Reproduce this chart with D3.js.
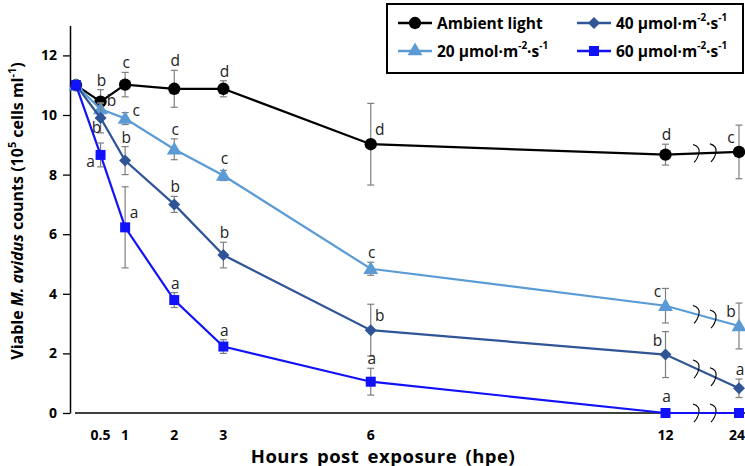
<!DOCTYPE html>
<html><head><meta charset="utf-8">
<script src="https://cdn.jsdelivr.net/npm/d3@7"></script>
<style>
body{margin:0;background:#fff;}
svg text{font-family:"Open Sans","Noto Sans",sans-serif;}
</style></head>
<body><svg id="chart" width="745" height="466"></svg>
<script>
const hours = [0, 0.5, 1, 2, 3, 6, 12, 24];
const xTickValues = [0.5, 1, 2, 3, 6, 12, 24];
const yTickValues = [0, 2, 4, 6, 8, 10, 12];

const ambientVals = [11.0, 10.45, 11.02, 10.88, 10.88, 9.02, 8.67, 8.76];
const ambientErr  = [0, 0.40, 0.41, 0.62, 0.27, 1.37, 0.35, 0.90];
const ambientLet  = ["", "b", "c", "d", "d", "d", "d", "c"];

const p20Vals = [11.0, 10.20, 9.88, 8.85, 7.97, 4.84, 3.60, 2.92];
const p20Err  = [0, 0.20, 0.20, 0.35, 0.17, 0.22, 0.58, 0.77];
const p20Let  = ["", "b", "c", "c", "c", "c", "c", "b"];

const p40Vals = [11.0, 9.90, 8.47, 7.00, 5.30, 2.78, 1.96, 0.83];
const p40Err  = [0, 0.50, 0.47, 0.27, 0.43, 0.87, 0.77, 0.31];
const p40Let  = ["", "b", "b", "b", "b", "b", "b", "a"];

const p60Vals = [11.0, 8.66, 6.23, 3.79, 2.23, 1.05, 0.0, 0.0];
const p60Err  = [0, 0.40, 1.36, 0.25, 0.23, 0.45, 0, 0];
const p60Let  = ["", "a", "a", "a", "a", "a", "a", ""];

const seriesNames = ["Ambient light", "20", "40", "60"];

// label placement codes (layout only)
const place = {
  amb: ["", "t", "t", "t", "t", "r", "t", "l"],
  p20: ["", "ur", "ur", "t", "t", "t", "l", "l"],
  p40: ["", "bl", "t", "t", "t", "r", "l", "t"],
  p60: ["", "ml", "r", "t", "t", "t", "t", ""]
};

const series = [
  {name: seriesNames[0], vals: ambientVals, err: ambientErr, let: ambientLet, pl: place.amb, color: "#000000", sym: "circle"},
  {name: seriesNames[1], vals: p20Vals, err: p20Err, let: p20Let, pl: place.p20, color: "#5B9BD5", sym: "triangle"},
  {name: seriesNames[2], vals: p40Vals, err: p40Err, let: p40Let, pl: place.p40, color: "#2F5597", sym: "diamond"},
  {name: seriesNames[3], vals: p60Vals, err: p60Err, let: p60Let, pl: place.p60, color: "#1212FA", sym: "square"}
];

const svg = d3.select("#chart");
const x = d3.scaleLinear().domain([0, 12, 24]).range([76, 665.5, 739]);
const y = d3.scaleLinear().domain([0, 13]).range([413, 25.6]);

// axes
const yAxis = d3.axisLeft(y).tickValues(yTickValues).tickSize(7).tickSizeOuter(0).tickPadding(6);
const gy = svg.append("g").attr("transform", "translate(70,0)").call(yAxis);
gy.select(".domain").attr("stroke", "#000").attr("stroke-width", 1.5);
gy.selectAll(".tick line").attr("stroke", "#000").attr("stroke-width", 1.3);
gy.selectAll(".tick text").attr("font-size", 14).attr("font-weight", "bold").attr("fill", "#000")
  .style("font-family", '"Open Sans", sans-serif');

// x axis line (starts after small gap)
svg.append("line").attr("x1", 75).attr("x2", 745).attr("y1", y(0)).attr("y2", y(0))
  .attr("stroke", "#000").attr("stroke-width", 1.5);
svg.append("g").selectAll("text").data(xTickValues).join("text")
  .attr("x", d => d === 24 ? x(d) - 2 : x(d)).attr("y", 434).attr("text-anchor", "middle").attr("dominant-baseline", "central")
  .attr("font-size", 14).attr("font-weight", "bold").text(d => d);

// axis titles
svg.append("text").attr("x", 383).attr("y", 455).attr("text-anchor", "middle").attr("dominant-baseline", "central")
  .attr("font-size", 18.5).attr("font-weight", "bold").attr("letter-spacing", 0.5).attr("word-spacing", 3)
  .text("Hours post exposure (hpe)");

const yt = svg.append("text").attr("transform", "translate(17,211) rotate(-90)")
  .attr("text-anchor", "middle").attr("dominant-baseline", "central")
  .attr("font-size", 16).attr("font-weight", "bold");
yt.append("tspan").text("Viable ");
yt.append("tspan").attr("font-style", "italic").text("M. avidus");
yt.append("tspan").text(" counts (10");
yt.append("tspan").attr("font-size", 11).attr("dy", -6).text("5");
yt.append("tspan").attr("dy", 6).text(" cells ml");
yt.append("tspan").attr("font-size", 11).attr("dy", -6).text("-1");
yt.append("tspan").attr("dy", 6).text(")");

function symPath(sym) {
  if (sym === "circle") return d3.symbol(d3.symbolCircle, 120)();
  if (sym === "triangle") return d3.symbol(d3.symbolTriangle, 95)();
  if (sym === "diamond") return "M0,-6L6,0L0,6L-6,0Z";
  return d3.symbol(d3.symbolSquare, 100)();
}

const line = d3.line().x(d => x(d.h)).y(d => y(d.v));

series.forEach(s => {
  const pts = hours.map((h, i) => ({h, v: s.vals[i], e: s.err[i], l: s.let[i], p: s.pl[i]}));
  const g = svg.append("g");
  g.append("path").datum(pts).attr("d", line).attr("fill", "none")
    .attr("stroke", s.color).attr("stroke-width", 2.2);
  const eb = g.selectAll(".eb").data(pts.filter(d => d.e > 0)).join("g");
  eb.append("line").attr("x1", d => x(d.h)).attr("x2", d => x(d.h))
    .attr("y1", d => y(d.v + d.e)).attr("y2", d => y(d.v - d.e)).attr("stroke", "#7f7f7f").attr("stroke-width", 1.2);
  eb.append("line").attr("x1", d => x(d.h) - 3.5).attr("x2", d => x(d.h) + 3.5)
    .attr("y1", d => y(d.v + d.e)).attr("y2", d => y(d.v + d.e)).attr("stroke", "#7f7f7f").attr("stroke-width", 1.2);
  eb.append("line").attr("x1", d => x(d.h) - 3.5).attr("x2", d => x(d.h) + 3.5)
    .attr("y1", d => y(d.v - d.e)).attr("y2", d => y(d.v - d.e)).attr("stroke", "#7f7f7f").attr("stroke-width", 1.2);
  g.selectAll(".mk").data(pts).join("path")
    .attr("d", symPath(s.sym))
    .attr("transform", d => `translate(${x(d.h)},${y(d.v) + (s.sym === "triangle" ? 1 : 0)})`)
    .attr("fill", s.color);
  g.selectAll(".lt").data(pts.filter(d => d.l)).join("text")
    .attr("x", d => {
      const px = x(d.h);
      if (d.p === "r") return px + 9;
      if (d.p === "l") return px - 8;
      if (d.p === "ur") return px + 11;
      if (d.p === "bl") return px - 4;
      if (d.p === "ml") return px - 10;
      return px + 1;
    })
    .attr("y", d => {
      const py = y(d.v);
      if (d.p === "r" || d.p === "l") return py - 15;
      if (d.p === "ur") return py - 9;
      if (d.p === "bl") return py + 9;
      if (d.p === "ml") return py + 6;
      return Math.min(y(d.v + d.e) - 10, py - 17);
    })
    .attr("text-anchor", "middle").attr("dominant-baseline", "central")
    .attr("font-size", 15.5).attr("fill", "#222").text(d => d.l);
  [697, 714].forEach(bx => {
    const t = (x.invert(bx) - 12) / 12;
    const by = y(s.vals[6] + (s.vals[7] - s.vals[6]) * t);
    g.append("path").attr("d", `M${bx - 4},${by - 9} Q${bx + 3},${by - 7} ${bx + 2},${by - 1} Q${bx + 1},${by + 5} ${bx - 3},${by + 9}`)
      .attr("fill", "none").attr("stroke", "#000").attr("stroke-width", 1.1);
  });
});

// legend
const lg = svg.append("g");
lg.append("rect").attr("x", 387).attr("y", 4).attr("width", 356).attr("height", 69)
  .attr("fill", "#fff").attr("stroke", "#000").attr("stroke-width", 2);
const legendItems = [
  {s: series[0], x: 398, y: 23},
  {s: series[2], x: 577, y: 23},
  {s: series[1], x: 398, y: 51},
  {s: series[3], x: 577, y: 51}
];
legendItems.forEach(it => {
  const g = lg.append("g");
  g.append("line").attr("x1", it.x).attr("x2", it.x + 34).attr("y1", it.y).attr("y2", it.y)
    .attr("stroke", it.s.color).attr("stroke-width", 2.5);
  g.append("path").attr("d", symPath(it.s.sym)).attr("transform", `translate(${it.x + 17},${it.y})`).attr("fill", it.s.color);
  const t = g.append("text").attr("x", it.x + 39).attr("y", it.y).attr("dominant-baseline", "central")
    .attr("font-size", 15.5).attr("font-weight", "bold");
  if (it.s.name === "Ambient light") { t.text("Ambient light"); }
  else {
    t.append("tspan").text(it.s.name + " μmol·m");
    t.append("tspan").attr("font-size", 10).attr("dy", -6).text("-2");
    t.append("tspan").attr("dy", 6).text("·s");
    t.append("tspan").attr("font-size", 10).attr("dy", -6).text("-1");
  }
});
</script></body></html>
